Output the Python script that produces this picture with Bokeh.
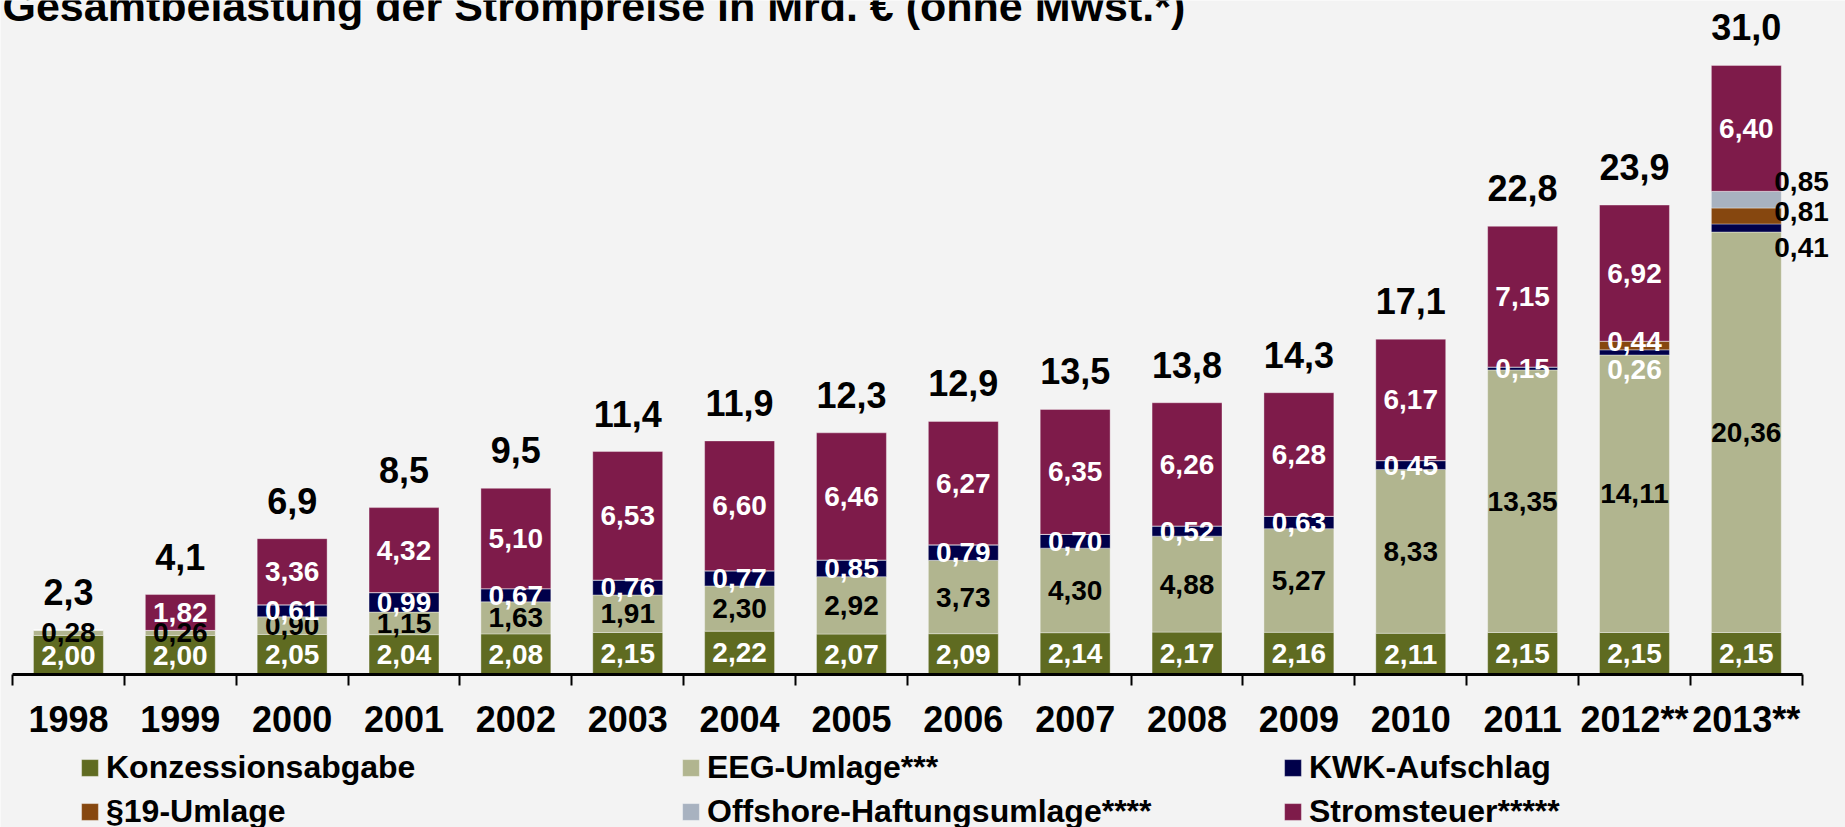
from bokeh.plotting import figure
from bokeh.models import (ColumnDataSource, Range1d, LinearAxis, FixedTicker,
                          Legend, LegendItem, Label)
from bokeh.core.properties import value
from bokeh.embed import file_html
from bokeh.resources import INLINE

# ---------------- data ----------------
years = ["1998", "1999", "2000", "2001", "2002", "2003", "2004", "2005",
         "2006", "2007", "2008", "2009", "2010", "2011", "2012**", "2013**"]
konzession = [2.00, 2.00, 2.05, 2.04, 2.08, 2.15, 2.22, 2.07, 2.09, 2.14, 2.17, 2.16, 2.11, 2.15, 2.15, 2.15]
eeg = [0.28, 0.26, 0.90, 1.15, 1.63, 1.91, 2.30, 2.92, 3.73, 4.30, 4.88, 5.27, 8.33, 13.35, 14.11, 20.36]
kwk = [0, 0, 0.61, 0.99, 0.67, 0.76, 0.77, 0.85, 0.79, 0.70, 0.52, 0.63, 0.45, 0.15, 0.26, 0.41]
umlage19 = [0, 0, 0, 0, 0, 0, 0, 0, 0, 0, 0, 0, 0, 0, 0.44, 0.81]
offshore = [0, 0, 0, 0, 0, 0, 0, 0, 0, 0, 0, 0, 0, 0, 0, 0.85]
stromsteuer = [0, 1.82, 3.36, 4.32, 5.10, 6.53, 6.60, 6.46, 6.27, 6.35, 6.26, 6.28, 6.17, 7.15, 6.92, 6.40]
totals = [2.3, 4.1, 6.9, 8.5, 9.5, 11.4, 11.9, 12.3, 12.9, 13.5, 13.8, 14.3, 17.1, 22.8, 23.9, 31.0]

series_keys = ["konz", "eeg", "kwk", "u19", "off", "st"]
series_values = [konzession, eeg, kwk, umlage19, offshore, stromsteuer]
series_names = ["Konzessionsabgabe", "EEG-Umlage***", "KWK-Aufschlag",
                "§19-Umlage", "Offshore-Haftungsumlage****", "Stromsteuer*****"]
title_text = "Gesamtbelastung der Strompreise in Mrd. € (ohne Mwst.*)"

# ---------------- style / layout ----------------
colors = ["#5F6B21", "#B1B58F", "#00004A", "#86470F", "#A8B2C0", "#7E1B4A"]
label_colors = ["white", "black", "white", "white", "white", "white"]
BG = "#F3F3F3"
FONT = "Liberation Sans"
W, H = 1845, 827
CAT_PX = 111.86     # pixel width of one category
X0_PX = 12.0        # canvas x of first category boundary
AXIS_PX = 674.3     # canvas y of the zero line
PXU = 19.67         # pixels per Mrd. EUR
BAR_W = 0.625
TOTAL_GAP_PX = 38   # distance of total label centre above bar top

# special label placements: (mode, x_offset px, y_offset px)
special = {
    ("2012**", "kwk"): ("in", 0, 17),
    ("2012**", "u19"): ("in", 0, -4),
    ("2013**", "kwk"): ("out", -7, 20),
    ("2013**", "u19"): ("out", -7, -4),
    ("2013**", "off"): ("out", -7, -18),
}


def fmt(v, d):
    return f"{v:.{d}f}".replace(".", ",")


xs = [i + 0.5 for i in range(len(years))]
data = dict(x=xs, year=years)
for k, vals in zip(series_keys, series_values):
    data[k] = vals
source = ColumnDataSource(data)

p = figure(width=W, height=H,
           x_range=Range1d(-X0_PX / CAT_PX, (W - X0_PX) / CAT_PX),
           y_range=Range1d(-(H - AXIS_PX) / PXU, AXIS_PX / PXU),
           min_border=0, toolbar_location=None, output_backend="svg",
           x_axis_location=None, y_axis_location=None,
           background_fill_color=BG, border_fill_color=BG,
           outline_line_color=None)
p.grid.visible = False

renderers = p.vbar_stack(series_keys, x="x", width=BAR_W, source=source,
                         fill_color=colors, line_color="white", line_alpha=0.35,
                         line_width=1)

# ---------------- segment labels ----------------
inn = dict(x=[], y=[], text=[], color=[], xo=[], yo=[])
out = dict(x=[], y=[], text=[], color=[], xo=[], yo=[])
stack_tops = []
for i, yr in enumerate(years):
    bottom = 0.0
    for j, k in enumerate(series_keys):
        v = series_values[j][i]
        if v > 0:
            mode, xo, yo = special.get((yr, k), ("in", 0, 0))
            if mode == "in":
                d = inn
                d["x"].append(xs[i])
                d["color"].append(label_colors[j])
            else:
                d = out
                d["x"].append(xs[i] + BAR_W / 2)
                d["color"].append("black")
            d["y"].append(bottom + v / 2)
            d["text"].append(fmt(v, 2))
            d["xo"].append(xo)
            d["yo"].append(yo)
        bottom += v
    stack_tops.append(bottom)

p.text(x="x", y="y", text="text", text_color="color", x_offset="xo", y_offset="yo",
       source=ColumnDataSource(inn), text_align="center", text_baseline="middle",
       text_font=value(FONT), text_font_size="28px", text_font_style="bold")
p.text(x="x", y="y", text="text", text_color="color", x_offset="xo", y_offset="yo",
       source=ColumnDataSource(out), text_align="left", text_baseline="middle",
       text_font=value(FONT), text_font_size="28px", text_font_style="bold")

# ---------------- totals ----------------
tot_src = ColumnDataSource(dict(x=xs, y=[t + TOTAL_GAP_PX / PXU for t in stack_tops],
                                text=[fmt(t, 1) for t in totals]))
p.text(x="x", y="y", text="text", source=tot_src, text_align="center",
       text_baseline="middle", text_color="black",
       text_font=value(FONT), text_font_size="36px", text_font_style="bold")

# ---------------- x axis ----------------
axis = LinearAxis(fixed_location=0,
                  ticker=FixedTicker(ticks=xs, minor_ticks=list(range(len(years) + 1))),
                  major_label_overrides={x: y for x, y in zip(xs, years)},
                  bounds=(0, len(years)))
axis.axis_line_color = "black"
axis.axis_line_width = 3
axis.major_tick_line_color = None
axis.major_tick_out = 0
axis.major_tick_in = 0
axis.minor_tick_line_color = "black"
axis.minor_tick_line_width = 2
axis.minor_tick_out = 11
axis.minor_tick_in = 0
axis.major_label_standoff = 13
axis.major_label_text_font = FONT
axis.major_label_text_font_size = "36px"
axis.major_label_text_font_style = "bold"
axis.major_label_text_color = "black"
p.add_layout(axis, "below")

# ---------------- legends (three columns) ----------------
col_x = [79, 680, 1282]
for c, idxs in enumerate([[0, 3], [1, 4], [2, 5]]):
    items = [LegendItem(label=series_names[j], renderers=[renderers[j]]) for j in idxs]
    leg = Legend(items=items, location=(col_x[c], -3), orientation="vertical",
                 glyph_width=21, glyph_height=21, label_standoff=6, spacing=7,
                 padding=0, margin=0, label_height=36,
                 label_text_font=FONT, label_text_font_size="32px",
                 label_text_font_style="bold", label_text_color="black",
                 background_fill_alpha=0, border_line_alpha=0)
    p.add_layout(leg)

# ---------------- title ----------------
p.add_layout(Label(x=2, y=H - 5, x_units="screen", y_units="screen",
                   text=title_text, text_baseline="middle",
                   text_font=FONT, text_font_size="43px",
                   text_font_style="bold", text_color="black"))

open("out.html", "w").write(file_html(p, INLINE))
